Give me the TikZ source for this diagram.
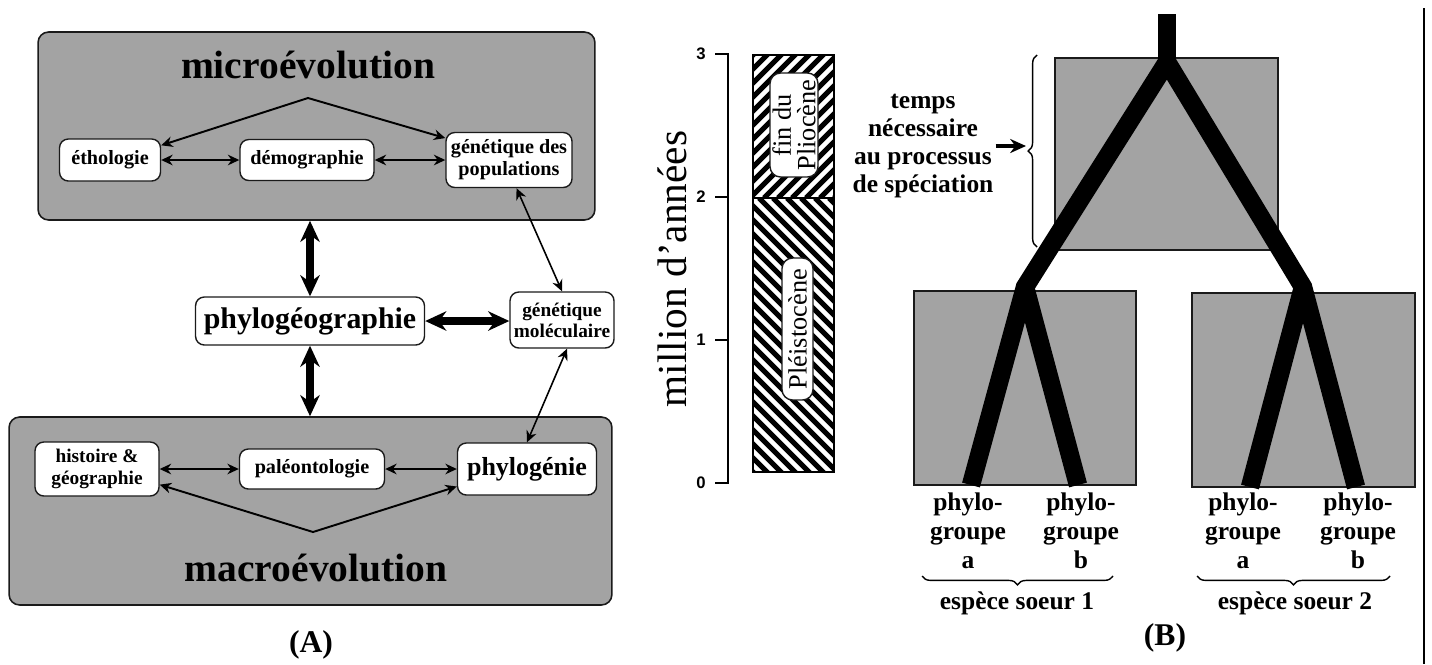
\documentclass[tikz,border=0pt]{standalone}
\usepackage{fontspec}
\setmainfont{Liberation Serif}
\setsansfont{Liberation Sans}
\usetikzlibrary{arrows.meta,decorations.pathreplacing}

\definecolor{Stone}{HTML}{A3A3A3}
\definecolor{Ink}{HTML}{1A1A1A}
\tikzstyle{Field} = [draw=Ink, fill=Stone, line width=0.9pt, rounded corners=6pt]
\tikzstyle{Box} = [draw=Ink, fill=white, line width=0.8pt, rounded corners=5pt,
                   align=center, inner sep=1pt,
                   font=\bfseries\fontsize{11.5}{12.5}\selectfont]
\tikzstyle{Title} = [inner sep=0pt, font=\bfseries\fontsize{22.5}{26}\selectfont]
\tikzstyle{Link} = [{Stealth[length=6.5pt,width=6pt]}-{Stealth[length=6.5pt,width=6pt]},
                    line width=1.1pt]
\tikzstyle{BigLink} = [{Stealth[length=12pt,width=11pt]}-{Stealth[length=12pt,width=11pt]},
                       line width=4pt]
\tikzstyle{Era} = [draw=Ink, fill=white, line width=0.8pt, rounded corners=6pt,
                   align=center, inner sep=1pt, font=\fontsize{15}{14}\selectfont]
\tikzstyle{Stripe} = [line width=2.9pt]
\tikzstyle{Tick} = [font=\sffamily\bfseries\fontsize{9.5}{10}\selectfont]
\tikzstyle{Plot} = [draw=Ink, fill=Stone, line width=0.8pt]
\tikzstyle{Branch} = [line width=10.5pt]
\tikzstyle{Label} = [align=center, font=\bfseries\fontsize{14.5}{16.5}\selectfont]
\tikzstyle{Brace} = [decorate, line width=0.8pt]

\begin{document}
\begin{tikzpicture}[x=0.02cm, y=-0.02cm]
	\useasboundingbox (0,0) rectangle (1432,664);

	% Panel A fields
	\node(microbox) at (316.5,126) [Field, minimum width=11.14cm, minimum height=3.76cm]{};
	\node(macrobox) at (310.5,511) [Field, minimum width=12.06cm, minimum height=3.76cm]{};
	\node(micro) at (308,65) [Title]{microévolution};
	\node(macro) at (316,568) [Title]{macroévolution};
	\coordinate(microtop) at (308,98);
	\coordinate(macrobot) at (313,532);

	% Discipline nodes
	\node(etho) at (110,160) [Box, minimum width=2.02cm, minimum height=0.84cm]{éthologie};
	\node(demo) at (307,160) [Box, minimum width=2.68cm, minimum height=0.82cm]{démographie};
	\node(genpop) at (509,160) [Box, minimum width=2.52cm, minimum height=1.1cm]{génétique des\\populations};
	\node(phylogeo) at (310,321) [Box, minimum width=4.58cm, minimum height=0.96cm, font=\bfseries\fontsize{17}{19}\selectfont]{phylogéographie};
	\node(genmol) at (562,320) [Box, minimum width=2.08cm, minimum height=1.12cm, font=\bfseries\fontsize{11}{12}\selectfont]{génétique\\moléculaire};
	\node(hist) at (97,469) [Box, minimum width=2.48cm, minimum height=1.08cm, font=\bfseries\fontsize{11}{12.5}\selectfont]{histoire \&\\géographie};
	\node(paleo) at (312,469) [Box, minimum width=2.9cm, minimum height=0.8cm]{paléontologie};
	\node(phylogenie) at (527,469) [Box, minimum width=2.78cm, minimum height=1.04cm, font=\bfseries\fontsize{14.8}{16}\selectfont]{phylogénie};
	\node(panelA) at (311,645) [font=\bfseries\fontsize{18}{20}\selectfont]{(A)};

	% Lines
	\draw [Link] (etho.16) -- (microtop) -- (genpop.161);
	\draw [Link] (etho) -- (demo);
	\draw [Link] (demo) -- (genpop);
	\draw [Link] (hist.-14) -- (macrobot) -- (phylogenie.194);
	\draw [Link] (hist) -- (paleo);
	\draw [Link] (paleo) -- (phylogenie);
	\draw [Link, line width=0.9pt] (genpop.-75) -- (genmol.north);
	\draw [Link, line width=0.9pt] (genmol.-80) -- (phylogenie.north);
	\draw [BigLink] (microbox.south -| phylogeo) -- (phylogeo.north);
	\draw [BigLink] (phylogeo.south) -- (phylogeo |- macrobox.north);
	\draw [BigLink] (phylogeo.east) -- (phylogeo.east -| genmol.west);

	% Panel B: time axis
	\draw[line width=0.9pt] (715,54) -- (728,54) -- (728,483) -- (715,483);
	\foreach \y in {197,340} \draw[line width=0.9pt] (715,\y) -- (728,\y);
	\foreach \v/\y in {3/54,2/197,1/340,0/483} \node(tick\v) at (701,\y) [Tick]{\v};
	\node(years) at (672,269) [rotate=90, font=\fontsize{23.5}{26}\selectfont]{million d'années};

	% Hatched column
	\begin{scope}
		\clip (753,55) rectangle (834,198);
		\foreach \k in {0,...,18} \draw[Stripe] (596+\k*14,198) -- ++(160,-160);
	\end{scope}
	\begin{scope}
		\clip (753,198) rectangle (834,472);
		\foreach \k in {0,...,28} \draw[Stripe] (465+\k*14,198) -- ++(290,290);
	\end{scope}
	\draw[line width=1.2pt] (753,55) rectangle (834,472) (753,198) -- (834,198);
	\node(plio) at (794,125) [Era, rotate=90, minimum width=2.08cm, minimum height=0.96cm]{fin du\\Pliocène};
	\node(pleisto) at (797.5,329) [Era, rotate=90, minimum width=2.84cm, minimum height=0.62cm]{Pléistocène};

	% Tree
	\node(ancestral) at (1166.5,154) [Plot, minimum width=4.46cm, minimum height=3.84cm]{};
	\node(sister1) at (1025,388) [Plot, minimum width=4.44cm, minimum height=3.88cm]{};
	\node(sister2) at (1303.5,390) [Plot, minimum width=4.46cm, minimum height=3.88cm]{};
	\coordinate(root) at (1167,14);
	\coordinate(split) at (1167,62);
	\coordinate(splitA) at (1025,287);
	\coordinate(splitB) at (1303,287);
	\coordinate(tipA1) at (971,485);
	\coordinate(tipB1) at (1078,485);
	\coordinate(tipA2) at (1250,487);
	\coordinate(tipB2) at (1356,487);
	\draw[Branch] (root) -- (split);
	\draw[Branch] (tipA1) -- (splitA) -- (split) -- (splitB) -- (tipB2);
	\draw[Branch] (tipB1) -- (splitA);
	\draw[Branch] (tipA2) -- (splitB);

	% Speciation time
	\draw[Brace, decoration={brace, amplitude=5pt}] (1037,247) -- (1037,55);
	\coordinate(bracetip) at (1026,146);
	\node(temps) at (923,146) [Label, inner sep=1pt, font=\bfseries\fontsize{14.5}{16}\selectfont]{temps\\nécessaire\\au processus\\de spéciation};
	\draw[-{Stealth[length=9pt,width=8pt]}, line width=2.2pt] (temps.east) -- (bracetip);

	% Phylogroups
	\node(a1) at (968,531) [Label]{phylo-\\groupe\\a};
	\node(b1) at (1081,531) [Label]{phylo-\\groupe\\b};
	\node(a2) at (1243,531) [Label]{phylo-\\groupe\\a};
	\node(b2) at (1358,531) [Label]{phylo-\\groupe\\b};
	\draw[Brace, decoration={brace, mirror, amplitude=5pt}] (922,576) -- (1113,576);
	\draw[Brace, decoration={brace, mirror, amplitude=5pt}] (1197,576) -- (1390,576);
	\node(espece1) at (1017,603) [Label]{espèce soeur 1};
	\node(espece2) at (1295,603) [Label]{espèce soeur 2};
	\node(panelB) at (1165,638) [font=\bfseries\fontsize{18}{20}\selectfont]{(B)};
	\draw[line width=1pt] (1424,8) -- (1424,664);

\end{tikzpicture}
\end{document}
